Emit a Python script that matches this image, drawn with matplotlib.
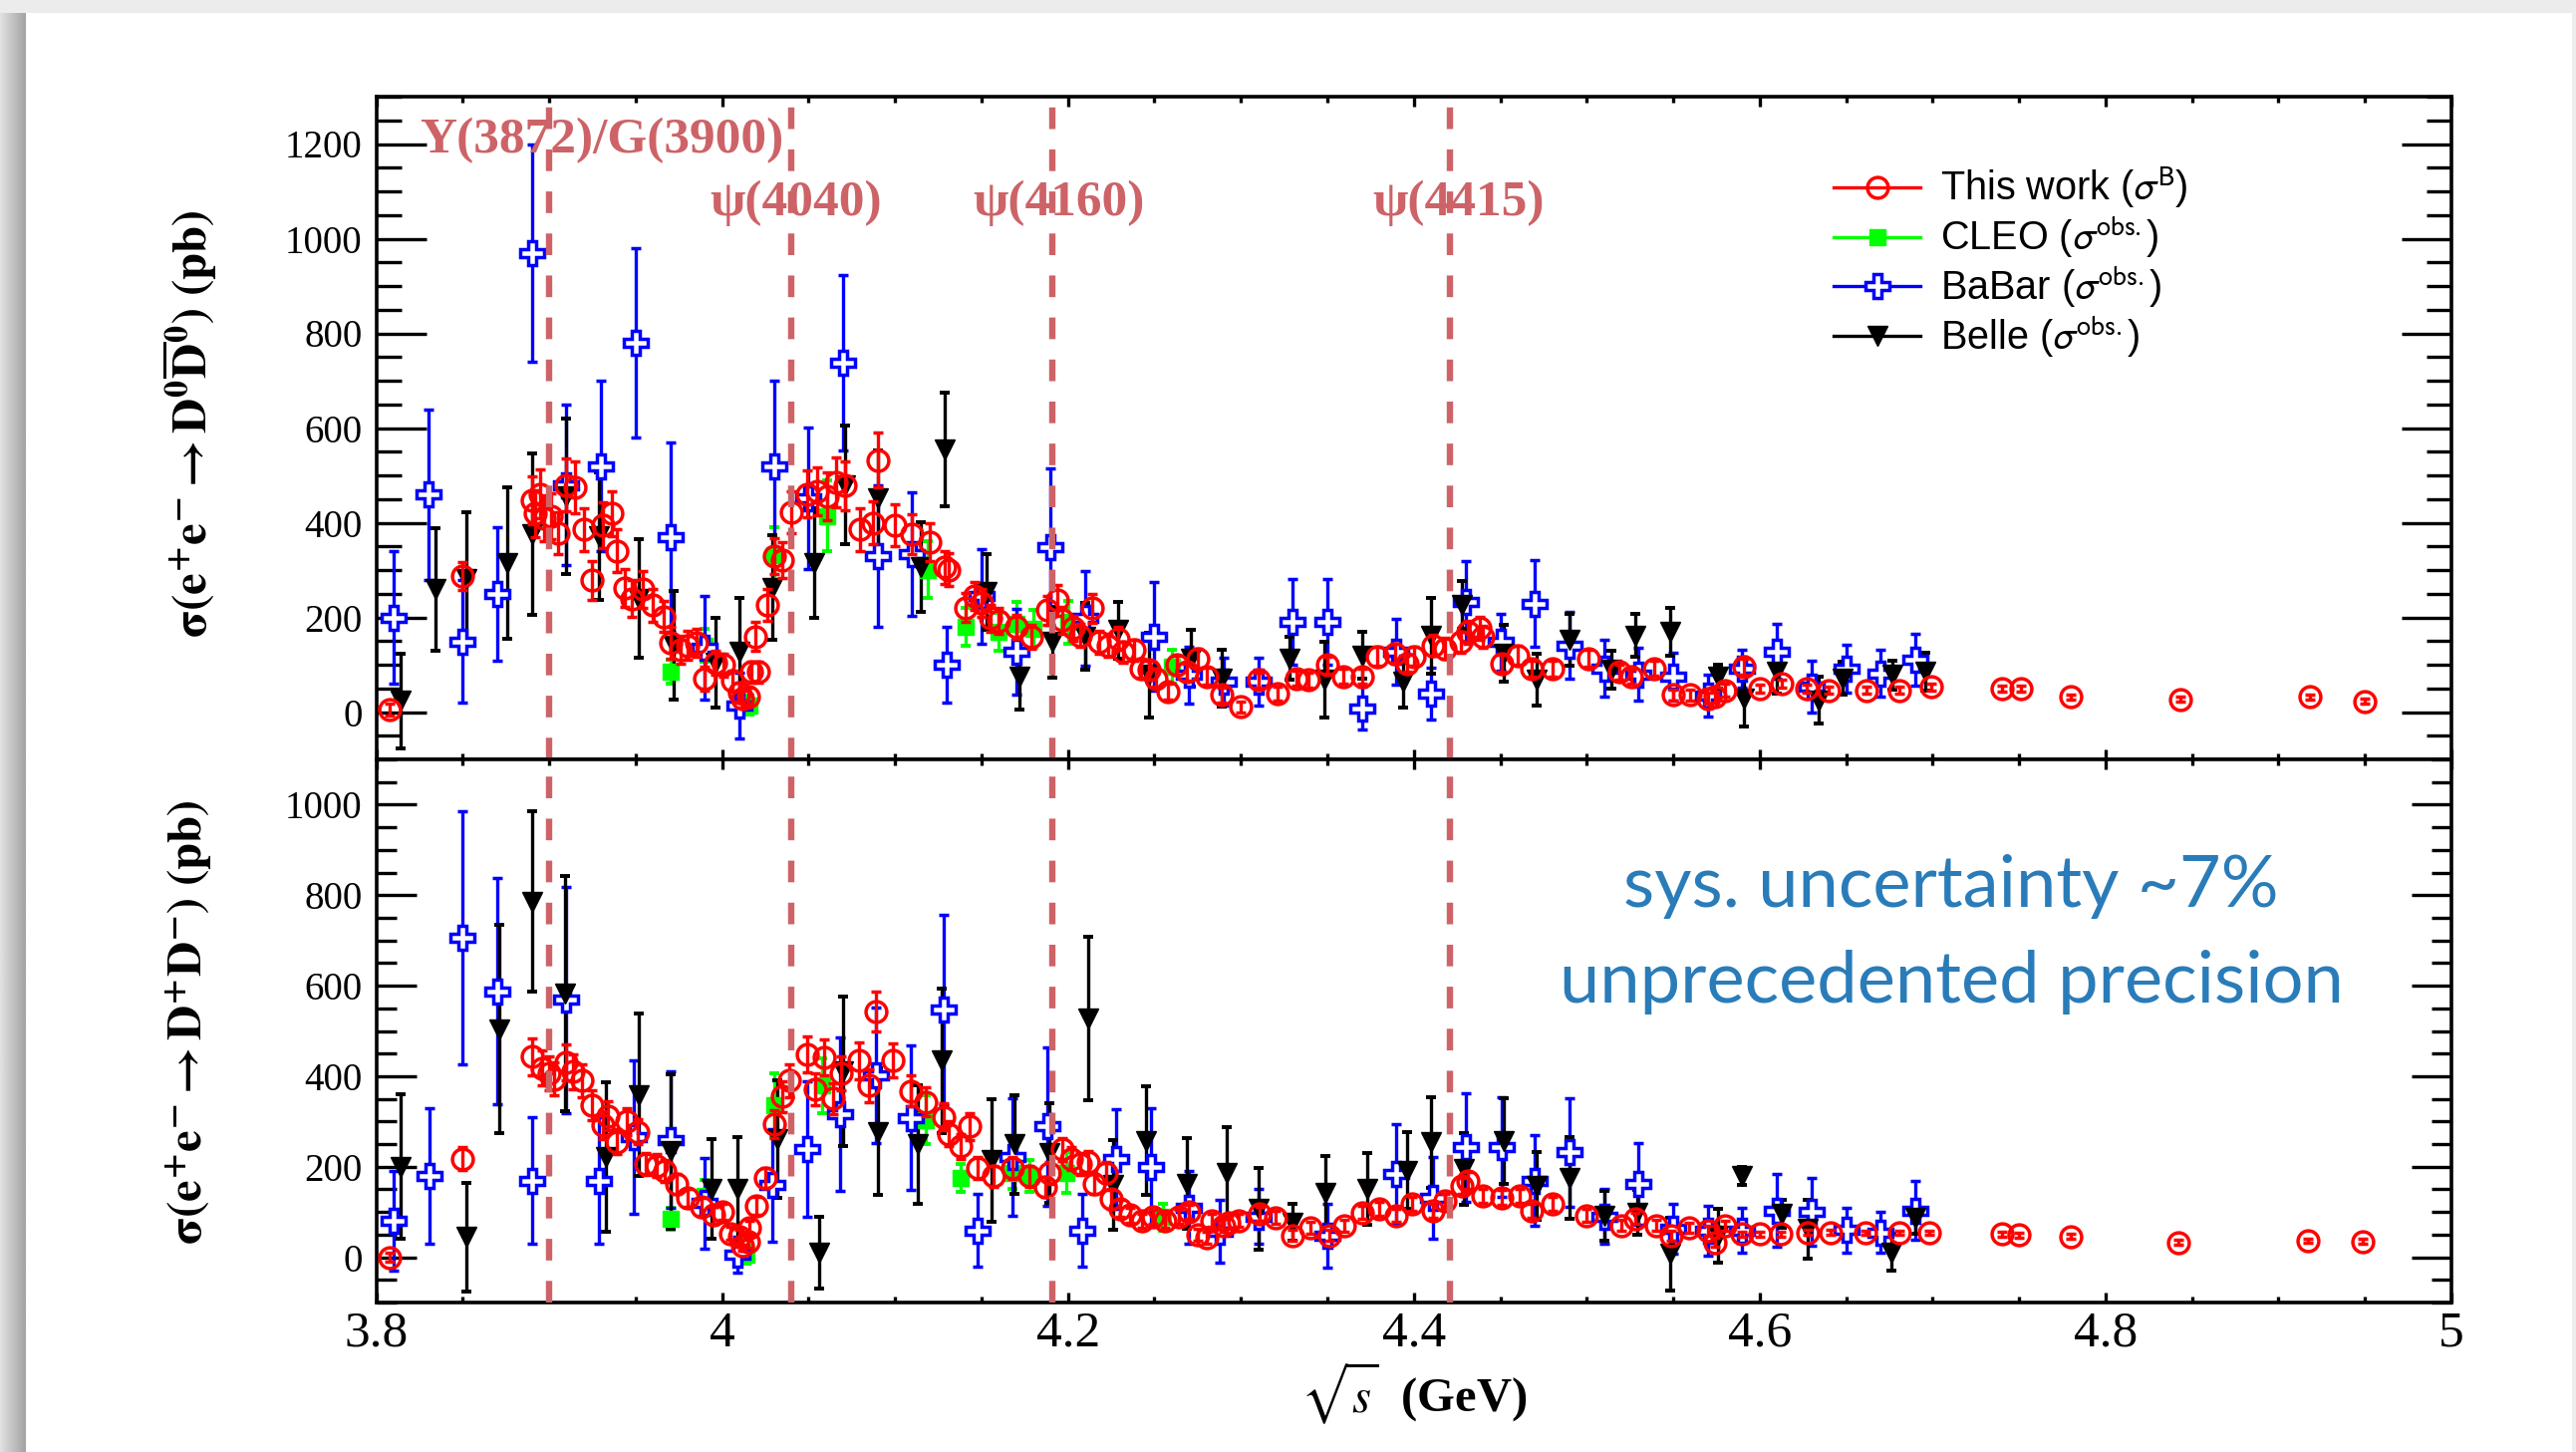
import numpy as np
import matplotlib
matplotlib.use('Agg')
import matplotlib.pyplot as plt
from matplotlib.lines import Line2D
from matplotlib.patches import Rectangle
from matplotlib.ticker import MultipleLocator, FormatStrFormatter
from matplotlib.font_manager import FontProperties

plt.rcParams['font.family'] = ['Liberation Serif', 'DejaVu Serif']

# ---------------- top panel: e+e- -> D0 D0bar ----------------
bes_e_top = [3.808, 3.850, 3.890, 3.892, 3.895, 3.897, 3.901, 3.905, 3.910, 3.915,
             3.920, 3.925, 3.931, 3.936, 3.939, 3.944, 3.948, 3.954, 3.960, 3.966,
             3.970, 3.976, 3.980, 3.985, 3.990, 3.996, 4.001, 4.006, 4.010, 4.012,
             4.015, 4.017, 4.019, 4.021, 4.026, 4.030, 4.035, 4.040, 4.049, 4.055,
             4.061, 4.066, 4.071, 4.080, 4.087, 4.090, 4.100, 4.110, 4.120, 4.129,
             4.131, 4.141, 4.146, 4.150, 4.155, 4.160, 4.170, 4.179, 4.188, 4.194,
             4.197, 4.203, 4.207, 4.214, 4.218, 4.223, 4.229, 4.232, 4.238, 4.242,
             4.247, 4.251, 4.258, 4.263, 4.269, 4.275, 4.280, 4.289, 4.300, 4.310,
             4.321, 4.332, 4.339, 4.350, 4.359, 4.370, 4.379, 4.389, 4.396, 4.400,
             4.411, 4.418, 4.427, 4.431, 4.438, 4.440, 4.451, 4.460, 4.468, 4.480,
             4.501, 4.519, 4.526, 4.539, 4.550, 4.560, 4.570, 4.574, 4.580, 4.591,
             4.600, 4.613, 4.627, 4.640, 4.662, 4.681, 4.699, 4.740, 4.751, 4.780,
             4.843, 4.918, 4.950]
bes_xs_top = [5, 287, 447, 419, 461, 409, 414, 378, 480, 475,
              386, 278, 395, 419, 341, 263, 240, 259, 226, 202,
              146, 132, 141, 146, 71, 104, 99, 66, 42, 28,
              33, 85, 160, 85, 226, 329, 322, 422, 461, 466,
              456, 485, 478, 386, 400, 532, 395, 376, 358, 306,
              301, 221, 245, 231, 198, 193, 180, 159, 215, 236,
              194, 177, 162, 219, 148, 141, 155, 127, 131, 92,
              89, 71, 43, 99, 85, 113, 75, 36, 11, 68,
              39, 71, 68, 99, 75, 75, 117, 124, 103, 117,
              141, 134, 148, 169, 177, 159, 103, 120, 92, 92,
              113, 85, 75, 92, 36, 36, 29, 32, 46, 96,
              50, 60, 50, 46, 46, 46, 53, 50, 50, 32,
              27, 32, 23]
bes_err_top = [12, 30, 50, 50, 52, 48, 48, 45, 55, 55,
               45, 42, 48, 47, 45, 40, 38, 38, 35, 33,
               33, 30, 30, 30, 25, 25, 25, 22, 20, 18,
               18, 22, 30, 22, 33, 38, 38, 45, 50, 50,
               50, 52, 52, 45, 45, 58, 45, 42, 40, 35,
               35, 30, 30, 30, 28, 28, 26, 25, 30, 32,
               28, 27, 25, 30, 24, 24, 24, 22, 22, 20,
               20, 18, 16, 20, 18, 20, 18, 15, 12, 16,
               15, 16, 16, 18, 16, 16, 20, 20, 18, 20,
               22, 22, 22, 24, 25, 24, 18, 20, 17, 17,
               18, 16, 15, 16, 12, 12, 12, 12, 13, 16,
               8, 8, 8, 7, 7, 7, 7, 6, 6, 5,
               5, 5, 5]

cleo_e_top = [3.970, 3.990, 4.016, 4.030, 4.061, 4.119, 4.141, 4.160, 4.170, 4.180, 4.200, 4.260]
cleo_xs_top = [85, 141, 14, 331, 414, 301, 179, 169, 187, 175, 190, 96]
cleo_err_top = [25, 35, 20, 60, 75, 60, 40, 40, 45, 40, 45, 35]

babar_e_top = [3.810, 3.830, 3.850, 3.870, 3.890, 3.910, 3.930, 3.950, 3.970, 3.990,
               4.010, 4.030, 4.050, 4.070, 4.090, 4.110, 4.130, 4.150, 4.170, 4.190,
               4.210, 4.250, 4.270, 4.290, 4.310, 4.330, 4.350, 4.370, 4.390, 4.410,
               4.430, 4.450, 4.470, 4.490, 4.510, 4.530, 4.550, 4.570, 4.590, 4.610,
               4.630, 4.650, 4.670, 4.690]
babar_xs_top = [200, 459, 149, 249, 969, 480, 519, 779, 370, 136,
                14, 519, 452, 738, 329, 334, 99, 245, 127, 349,
                198, 160, 78, 64, 64, 191, 191, 8, 127, 39,
                233, 148, 229, 141, 92, 80, 75, 35, 92, 128,
                53, 92, 82, 110]
babar_err_top = [141, 180, 130, 141, 230, 170, 180, 200, 200, 110,
                 70, 180, 150, 185, 150, 130, 80, 100, 90, 165,
                 100, 115, 60, 50, 50, 90, 90, 45, 70, 55,
                 85, 60, 92, 70, 60, 55, 50, 45, 40, 58,
                 55, 50, 50, 55]

belle_e_top = [3.814, 3.834, 3.852, 3.876, 3.890, 3.910, 3.929, 3.952, 3.972, 3.996,
               4.010, 4.029, 4.053, 4.071, 4.090, 4.115, 4.129, 4.153, 4.172, 4.191,
               4.210, 4.229, 4.247, 4.271, 4.289, 4.328, 4.348, 4.370, 4.394, 4.410,
               4.428, 4.452, 4.471, 4.490, 4.514, 4.528, 4.548, 4.576, 4.591, 4.610,
               4.634, 4.648, 4.677, 4.696]
belle_xs_top = [24, 259, 282, 315, 376, 456, 372, 240, 141, 104,
                127, 263, 315, 480, 452, 306, 555, 254, 75, 148,
                160, 173, 78, 113, 71, 113, 68, 120, 64, 162,
                226, 124, 68, 152, 89, 162, 169, 75, 29, 85,
                25, 71, 78, 85]
belle_err_top = [100, 130, 140, 160, 170, 165, 135, 125, 115, 95,
                 115, 110, 115, 125, 100, 95, 120, 80, 70, 75,
                 70, 60, 90, 60, 60, 45, 80, 50, 55, 80,
                 50, 60, 55, 55, 40, 45, 50, 25, 60, 45,
                 50, 35, 30, 40]

# ---------------- bottom panel: e+e- -> D+ D- ----------------
bes_e_bot = [3.808, 3.850, 3.890, 3.896, 3.900, 3.903, 3.910, 3.914, 3.919, 3.925,
             3.931, 3.934, 3.939, 3.945, 3.951, 3.956, 3.962, 3.967, 3.974, 3.980,
             3.988, 3.995, 4.000, 4.005, 4.010, 4.012, 4.015, 4.016, 4.020, 4.025,
             4.030, 4.035, 4.039, 4.049, 4.054, 4.059, 4.064, 4.069, 4.079, 4.085,
             4.089, 4.099, 4.109, 4.118, 4.128, 4.131, 4.138, 4.143, 4.148, 4.157,
             4.168, 4.178, 4.187, 4.189, 4.197, 4.202, 4.207, 4.212, 4.215, 4.222,
             4.225, 4.230, 4.236, 4.243, 4.249, 4.256, 4.264, 4.270, 4.275, 4.280,
             4.283, 4.290, 4.293, 4.299, 4.311, 4.320, 4.330, 4.340, 4.351, 4.360,
             4.370, 4.380, 4.390, 4.399, 4.411, 4.418, 4.428, 4.431, 4.440, 4.451,
             4.461, 4.468, 4.480, 4.500, 4.520, 4.528, 4.540, 4.549, 4.559, 4.570,
             4.574, 4.580, 4.590, 4.600, 4.612, 4.628, 4.641, 4.661, 4.681, 4.698,
             4.740, 4.750, 4.780, 4.842, 4.917, 4.949]
bes_xs_bot = [0, 218, 443, 418, 406, 394, 430, 410, 390, 336,
              292, 312, 255, 300, 277, 206, 202, 191, 163, 132,
              112, 93, 100, 53, 45, 26, 34, 65, 114, 175,
              294, 355, 390, 448, 371, 441, 351, 406, 434, 379,
              543, 435, 367, 343, 310, 273, 245, 289, 198, 179,
              198, 179, 155, 187, 238, 218, 206, 210, 163, 187,
              128, 108, 93, 81, 89, 81, 89, 100, 49, 44,
              81, 70, 77, 81, 96, 88, 48, 66, 48, 70,
              99, 107, 92, 118, 103, 125, 158, 169, 136, 132,
              136, 103, 118, 92, 70, 86, 70, 48, 66, 59,
              33, 70, 51, 51, 51, 55, 55, 54, 54, 54,
              51, 49, 46, 33, 37, 35]
bes_err_bot = [10, 25, 40, 38, 38, 37, 40, 38, 37, 33,
               30, 32, 28, 30, 28, 25, 25, 24, 22, 20,
               20, 18, 18, 15, 15, 12, 13, 16, 20, 22,
               30, 34, 36, 40, 36, 40, 34, 38, 40, 36,
               45, 38, 34, 32, 30, 28, 27, 30, 24, 23,
               24, 23, 22, 24, 26, 25, 25, 25, 22, 23,
               20, 18, 17, 16, 16, 15, 15, 16, 13, 13,
               14, 14, 14, 14, 15, 14, 12, 13, 12, 13,
               15, 15, 14, 16, 15, 16, 18, 19, 16, 16,
               16, 15, 15, 14, 12, 13, 12, 11, 11, 11,
               10, 11, 6, 6, 6, 6, 6, 5, 5, 5,
               5, 5, 5, 5, 5, 5]

cleo_e_bot = [3.970, 3.990, 4.014, 4.030, 4.058, 4.118, 4.138, 4.168, 4.178, 4.199, 4.255]
cleo_xs_bot = [85, 136, 6, 336, 379, 304, 175, 187, 179, 187, 89]
cleo_err_bot = [25, 35, 20, 70, 60, 55, 30, 35, 35, 45, 30]

babar_e_bot = [3.810, 3.831, 3.850, 3.870, 3.890, 3.910, 3.929, 3.949, 3.970, 3.990,
               4.009, 4.029, 4.049, 4.068, 4.089, 4.109, 4.128, 4.148, 4.168, 4.188,
               4.208, 4.228, 4.248, 4.270, 4.288, 4.310, 4.350, 4.390, 4.411, 4.430,
               4.451, 4.470, 4.490, 4.510, 4.530, 4.550, 4.570, 4.590, 4.610, 4.630,
               4.650, 4.670, 4.690]
babar_xs_bot = [81, 179, 706, 588, 169, 569, 169, 265, 260, 120,
                6, 159, 239, 316, 402, 308, 547, 59, 222, 289,
                59, 218, 200, 110, 57, 90, 48, 184, 132, 243,
                243, 169, 232, 90, 162, 62, 59, 59, 103, 101,
                60, 55, 103]
babar_err_bot = [110, 150, 280, 250, 140, 250, 140, 170, 150, 100,
                 40, 125, 150, 170, 150, 160, 210, 80, 130, 175,
                 80, 110, 130, 80, 70, 60, 70, 110, 90, 120,
                 110, 100, 120, 60, 90, 55, 55, 50, 80, 75,
                 50, 45, 65]

belle_e_bot = [3.814, 3.852, 3.871, 3.890, 3.909, 3.933, 3.952, 3.970, 3.994, 4.009,
               4.032, 4.056, 4.070, 4.090, 4.113, 4.127, 4.156, 4.169, 4.189, 4.212,
               4.226, 4.245, 4.269, 4.292, 4.310, 4.330, 4.349, 4.373, 4.396, 4.410,
               4.429, 4.452, 4.471, 4.490, 4.510, 4.529, 4.548, 4.576, 4.590, 4.613,
               4.628, 4.676, 4.690]
belle_xs_bot = [200, 45, 504, 786, 582, 222, 359, 234, 151, 151,
                261, 10, 410, 277, 249, 434, 214, 249, 230, 528,
                160, 257, 163, 187, 107, 77, 143, 151, 191, 254,
                195, 257, 158, 176, 92, 99, 7, 48, 180, 96,
                62, 11, 88]
belle_err_bot = [160, 120, 230, 200, 260, 165, 180, 170, 110, 115,
                 130, 80, 165, 140, 130, 160, 135, 110, 110, 180,
                 100, 120, 100, 100, 90, 40, 80, 80, 85, 100,
                 80, 95, 75, 90, 55, 50, 80, 60, 20, 30,
                 65, 40, 35]

# resonance markers
res_names = ['Y(3872)/G(3900)', u'\u03c8(4040)', u'\u03c8(4160)', u'\u03c8(4415)']
res_mass = [3.900, 4.040, 4.191, 4.421]
res_text_x = [3.825, 3.993, 4.145, 4.376]
res_text_y = [1207, 1075, 1075, 1075]

W, H = 2585, 1457


def fx(px):
    return px / W


def fy(py):
    return 1 - py / H


fig = plt.figure(figsize=(W / 100, H / 100), dpi=100, facecolor='#ececec')

# slide card + left shadow
fig.patches.append(Rectangle((fx(25), 0), fx(2581) - fx(25), fy(13),
                             transform=fig.transFigure, facecolor='white',
                             edgecolor='none', zorder=-10))
gax = fig.add_axes([0, 0, fx(25), fy(13)])
gax.imshow(np.linspace(0.88, 0.64, 25)[None, :], aspect='auto', cmap='gray',
           vmin=0, vmax=1)
gax.axis('off')

ax1 = fig.add_axes([fx(377.5), fy(762), fx(2460) - fx(377.5), fy(97) - fy(762)])
ax2 = fig.add_axes([fx(377.5), fy(1307), fx(2460) - fx(377.5), fy(762) - fy(1307)])

res_color = '#cd6367'

err_style = dict(elinewidth=2.4, capsize=3.8, capthick=2.8)
cleo_kw = dict(fmt='s', mfc='#00ff00', mec='#00ff00', ms=11, ecolor='#00ff00',
               zorder=2, **err_style)
babar_kw = dict(fmt='P', mfc='white', mec='#0000ff', ms=17, mew=2.5, ecolor='#0000ff',
                zorder=2, **err_style)
belle_kw = dict(fmt='v', mfc='black', mec='black', ms=14, ecolor='black',
                zorder=2, **err_style)
bes_kw = dict(fmt='o', mfc='none', mec='#ff0000', ms=15, mew=2.5, ecolor='#ff0000',
              zorder=3, **err_style)


def draw_panel(ax, cleo, babar, belle, bes):
    ax.errorbar(cleo[0], cleo[1], yerr=cleo[2], **cleo_kw)
    ax.errorbar(babar[0], babar[1], yerr=babar[2], **babar_kw)
    ax.errorbar(belle[0], belle[1], yerr=belle[2], **belle_kw)
    ax.errorbar(bes[0], bes[1], yerr=bes[2], **bes_kw)
    for m in res_mass:
        ax.axvline(m, color=res_color, lw=4.6, dashes=(3.4, 3.2), zorder=4)


draw_panel(ax1, (cleo_e_top, cleo_xs_top, cleo_err_top),
           (babar_e_top, babar_xs_top, babar_err_top),
           (belle_e_top, belle_xs_top, belle_err_top),
           (bes_e_top, bes_xs_top, bes_err_top))
draw_panel(ax2, (cleo_e_bot, cleo_xs_bot, cleo_err_bot),
           (babar_e_bot, babar_xs_bot, babar_err_bot),
           (belle_e_bot, belle_xs_bot, belle_err_bot),
           (bes_e_bot, bes_xs_bot, bes_err_bot))

ax1.set_ylim(-100, 1300)
ax2.set_ylim(-100, 1100)
for ax, ylong in ((ax1, 36), (ax2, 29)):
    ax.set_xlim(3.8, 5.0)
    ax.xaxis.set_major_locator(MultipleLocator(0.2))
    ax.xaxis.set_minor_locator(MultipleLocator(0.05))
    ax.yaxis.set_major_locator(MultipleLocator(200))
    ax.yaxis.set_minor_locator(MultipleLocator(50))
    ax.tick_params(which='both', direction='in', top=True, right=True, width=2.4)
    ax.tick_params(axis='x', which='major', length=7, labelsize=37, pad=6)
    ax.tick_params(axis='x', which='minor', length=4)
    ax.tick_params(axis='y', which='major', length=ylong, labelsize=28, pad=10)
    ax.tick_params(axis='y', which='minor', length=ylong / 2)
    for sp in ax.spines.values():
        sp.set_linewidth(2.6)
ax1.tick_params(axis='x', labelbottom=False)
ax2.xaxis.set_major_formatter(FormatStrFormatter('%g'))

# resonance labels
for name, tx, ty in zip(res_names, res_text_x, res_text_y):
    ax1.text(tx, ty, name, color=res_color, fontsize=37, fontweight='bold',
             ha='left', va='center', zorder=3)

# axis titles
lab_fp = FontProperties(family='Liberation Serif', weight='bold', size=35,
                        math_fontfamily='stix')
ax2.set_xlabel(r'$\sqrt{s}$  (GeV)', fontproperties=lab_fp, labelpad=2)
ylab_fp = FontProperties(family='Liberation Serif', weight='bold', size=35,
                         math_fontfamily='stix')
fig.text(fx(190), fy(425),
         r'$\mathbf{\sigma(e^{+}e^{-}\rightarrow D^{0}\overline{D}^{0})\ (pb)}$',
         rotation=90, ha='center', va='center', fontproperties=ylab_fp)
fig.text(fx(190), fy(1026),
         r'$\mathbf{\sigma(e^{+}e^{-}\rightarrow D^{+}D^{-})\ (pb)}$',
         rotation=90, ha='center', va='center', fontproperties=ylab_fp)

# legend
handles = [
    Line2D([], [], color='#ff0000', lw=2.4, marker='o', mfc='none', mec='#ff0000', ms=15, mew=2.5),
    Line2D([], [], color='#00ff00', lw=2.4, marker='s', mfc='#00ff00', mec='#00ff00', ms=11),
    Line2D([], [], color='#0000ff', lw=2.4, marker='P', mfc='white', mec='#0000ff', ms=17, mew=2.5),
    Line2D([], [], color='black', lw=2.4, marker='v', mfc='black', mec='black', ms=14),
]
labels = [r'This work ($\sigma^{\rm B}$)', r'CLEO ($\sigma^{\rm obs.}$)',
          r'BaBar ($\sigma^{\rm obs.}$)', r'Belle ($\sigma^{\rm obs.}$)']
leg_fp = FontProperties(family='Liberation Sans', size=28.5, math_fontfamily='stixsans')
ax1.legend(handles, labels, loc='upper left', bbox_to_anchor=(fx(1840), fy(166)),
           bbox_transform=fig.transFigure, frameon=False, prop=leg_fp,
           handlelength=2.2, handletextpad=0.5, labelspacing=0.08,
           borderpad=0, borderaxespad=0, numpoints=1)

# slide annotation
note_color = '#2a7cb9'
fig.text(fx(1958), fy(890), 'sys. uncertainty ~7%', color=note_color,
         fontsize=52, family='Lato', ha='center', va='center')
fig.text(fx(1958), fy(986), 'unprecedented precision', color=note_color,
         fontsize=52, family='Lato', ha='center', va='center')

fig.savefig('out.png', dpi=100, facecolor=fig.get_facecolor())
